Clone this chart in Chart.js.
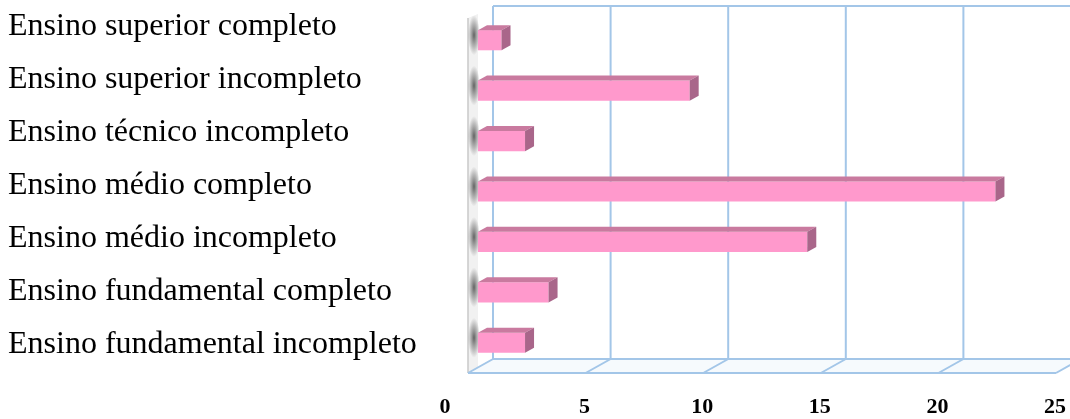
<!DOCTYPE html>
<html>
<head>
<meta charset="utf-8">
<script src="https://cdn.jsdelivr.net/npm/chart.js@4"></script>
<style>
  html, body { margin: 0; padding: 0; background: #fff; }
  #wrap { width: 1070px; height: 419px; }
</style>
</head>
<body>
<div id="wrap"><canvas id="chart"></canvas></div>
<script>
const CATEGORIES = [
  "Ensino superior completo",
  "Ensino superior incompleto",
  "Ensino técnico incompleto",
  "Ensino médio completo",
  "Ensino médio incompleto",
  "Ensino fundamental completo",
  "Ensino fundamental incompleto",
];
const COUNTS = [1, 9, 2, 22, 14, 3, 2];
const X_TICKS = [0, 5, 10, 15, 20, 25];

const FRONT_COLOR = "#ff99cc";
const TOP_COLOR = "#c97a9f";
const SIDE_COLOR = "#a9668a";
const GRID_COLOR = "#a3c6e8";

function poly(ctx, pts) {
  ctx.beginPath();
  ctx.moveTo(pts[0][0], pts[0][1]);
  pts.slice(1).forEach(p => ctx.lineTo(p[0], p[1]));
  ctx.closePath();
  ctx.fill();
}

// fake 3d box: back wall, floor, left wall, bar top/side faces
const box3d = {
  id: "box3d",
  beforeDatasetsDraw(chart) {
    const { ctx, chartArea: a, scales: { x } } = chart;
    const back = v => x.getPixelForValue(v) + 15;
    const front = v => x.getPixelForValue(v) - 10;
    const yTop = a.top - 9, yBack = a.bottom - 9, yFront = a.bottom + 5;
    const last = X_TICKS[X_TICKS.length - 1];
    ctx.save();
    ctx.fillStyle = "#f6fafd";
    poly(ctx, [[back(0), yBack], [back(last), yBack], [front(last), yFront], [front(0), yFront]]);
    // left wall
    ctx.fillStyle = "#f1f1f1";
    poly(ctx, [[front(0), yTop + 12], [front(0) + 10, yTop + 8], [front(0) + 10, yFront - 6], [front(0), yFront]]);
    ctx.strokeStyle = "#c9c9c9";
    ctx.lineWidth = 1.5;
    ctx.beginPath();
    ctx.moveTo(front(0), yTop + 12);
    ctx.lineTo(front(0), yFront);
    ctx.stroke();
    // shadows of the bars on the left wall
    const meta = chart.getDatasetMeta(0);
    meta.data.forEach(bar => {
      const cx = front(0) + 6, cy = bar.y - 5;
      const g = ctx.createRadialGradient(cx, cy, 0, cx, cy, 20);
      g.addColorStop(0, "rgba(50,50,50,0.75)");
      g.addColorStop(0.6, "rgba(80,80,80,0.35)");
      g.addColorStop(1, "rgba(80,80,80,0)");
      ctx.fillStyle = g;
      ctx.save();
      ctx.translate(cx, cy);
      ctx.scale(0.3, 1);
      ctx.translate(-cx, -cy);
      ctx.beginPath();
      ctx.arc(cx, cy, 20, 0, Math.PI * 2);
      ctx.fill();
      ctx.restore();
    });
    // grid
    ctx.strokeStyle = GRID_COLOR;
    ctx.lineWidth = 2;
    ctx.beginPath();
    ctx.moveTo(back(0), yTop);
    ctx.lineTo(chart.width, yTop);
    X_TICKS.forEach(v => {
      ctx.moveTo(back(v), yTop);
      ctx.lineTo(back(v), yBack);
      ctx.lineTo(front(v), yFront);
    });
    ctx.moveTo(back(0), yBack);
    ctx.lineTo(back(last), yBack);
    ctx.moveTo(front(0), yFront);
    ctx.lineTo(front(last), yFront);
    ctx.stroke();
    ctx.restore();
  },
  afterDatasetsDraw(chart) {
    const { ctx } = chart;
    const dx = 9, dy = -5;
    ctx.save();
    chart.getDatasetMeta(0).data.forEach(bar => {
      const { x: xe, y, base, height } = bar.getProps(["x", "y", "base", "height"], true);
      const t = y - height / 2, b = y + height / 2;
      ctx.fillStyle = TOP_COLOR;
      poly(ctx, [[base, t], [xe, t], [xe + dx, t + dy], [base + dx, t + dy]]);
      ctx.fillStyle = SIDE_COLOR;
      poly(ctx, [[xe, t], [xe + dx, t + dy], [xe + dx, b + dy], [xe, b]]);
    });
    ctx.restore();
  },
};

const ctx = document.getElementById("chart");
new Chart(ctx, {
  type: "bar",
  data: {
    labels: CATEGORIES,
    datasets: [{
      data: COUNTS,
      backgroundColor: FRONT_COLOR,
      borderWidth: 0,
      categoryPercentage: 1,
      barPercentage: 0.4,
    }],
  },
  options: {
    indexAxis: "y",
    responsive: true,
    maintainAspectRatio: false,
    animation: false,
    layout: { padding: { top: 15, left: 8, right: 4, bottom: 0 } },
    plugins: { legend: { display: false }, tooltip: { enabled: false } },
    scales: {
      x: {
        min: 0,
        max: 25,
        grid: { display: false },
        border: { display: false },
        afterBuildTicks: s => { s.ticks = X_TICKS.map(v => ({ value: v })); },
        afterFit: s => { s.height = 51; s.paddingLeft = 0; s.paddingRight = 0; },
        ticks: {
          color: "#000",
          font: { family: "Liberation Serif", size: 22, weight: "bold" },
          padding: 18,
          labelOffset: -11,
          maxRotation: 0,
          autoSkip: false,
          callback: v => (v === 0 ? "0" + " ".repeat(8) : String(v)),
        },
      },
      y: { display: false },
      yl: {
        type: "linear",
        position: "left",
        reverse: true,
        offset: false,
        bounds: "data",
        min: -0.226,
        max: 6.434,
        grid: { display: false },
        border: { display: false },
        afterBuildTicks: s => { s.ticks = CATEGORIES.map((_, i) => ({ value: i })); },
        afterFit: s => { s.width = 470; s.paddingTop = 0; s.paddingBottom = 0; },
        ticks: {
          crossAlign: "far",
          color: "#000",
          font: { family: "Liberation Serif", size: 32 },
          callback: v => CATEGORIES[v],
        },
      },
    },
  },
  plugins: [box3d],
});
</script>
</body>
</html>
